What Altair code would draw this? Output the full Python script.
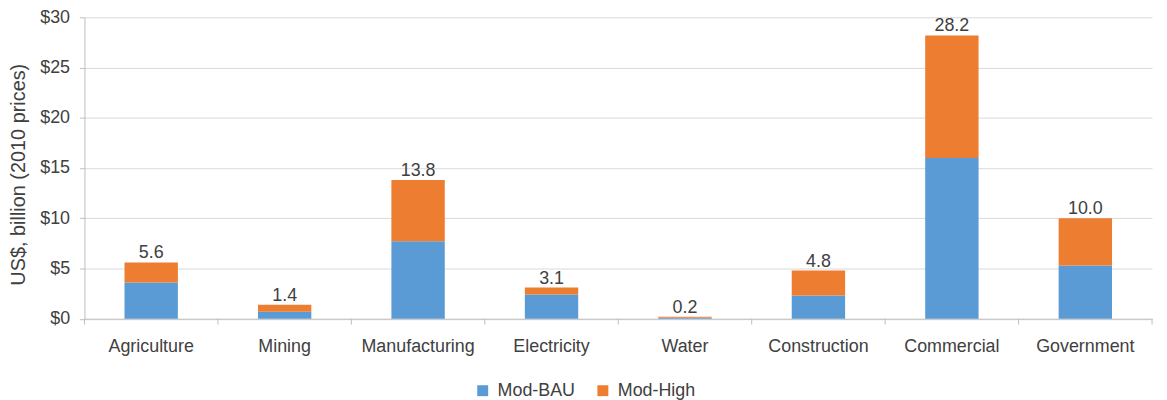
import altair as alt
import pandas as pd

categories = ["Agriculture", "Mining", "Manufacturing", "Electricity", "Water",
              "Construction", "Commercial", "Government"]
mod_bau = [3.6, 0.7, 7.7, 2.4, 0.1, 2.3, 16.0, 5.3]
mod_high = [2.0, 0.7, 6.1, 0.7, 0.1, 2.5, 12.2, 4.7]
series = ["Mod-BAU", "Mod-High"]
colors = ["#5B9BD5", "#ED7D31"]
y_ticks = [0, 5, 10, 15, 20, 25, 30]

rows = []
for c, b, h in zip(categories, mod_bau, mod_high):
    rows.append({"cat": c, "series": "Mod-BAU", "value": b, "ord": 0})
    rows.append({"cat": c, "series": "Mod-High", "value": h, "ord": 1})
df = pd.DataFrame(rows)
totals = pd.DataFrame({"cat": categories,
                       "total": [round(b + h, 1) for b, h in zip(mod_bau, mod_high)]})
cats_df = pd.DataFrame({"cat": categories})

W, H = 1075, 303.5
FONT = "Liberation Sans"
TXT = "#404040"

xscale = alt.Scale(domain=categories, paddingInner=0.6, paddingOuter=0.3)

bars = alt.Chart(df).mark_bar().encode(
    x=alt.X("cat:N", sort=categories, scale=xscale, title=None,
            axis=alt.Axis(labelAngle=0, ticks=False, domainColor="#BFBFBF",
                          labelFontSize=18, labelColor=TXT, labelFont=FONT,
                          labelPadding=19, domainWidth=1)),
    y=alt.Y("value:Q", stack="zero",
            scale=alt.Scale(domain=[0, 30], nice=False),
            axis=alt.Axis(values=y_ticks, labelExpr="'$' + datum.value",
                          title="US$, billion (2010 prices)",
                          labelFontSize=18, labelColor=TXT, labelFont=FONT,
                          titleFontSize=20, titleColor=TXT, titleFont=FONT,
                          titleFontWeight="normal", titleX=-66, titleY=158,
                          titleAngle=270, titleBaseline="middle", titleAlign="center",
                          gridColor="#D9D9D9", domainColor="#BFBFBF",
                          tickColor="#BFBFBF", tickSize=5, labelPadding=10)),
    color=alt.Color("series:N", scale=alt.Scale(domain=series, range=colors),
                    legend=alt.Legend(title=None, orient="none", direction="horizontal",
                                      legendX=392, legendY=367, symbolType="square",
                                      symbolSize=121, symbolStrokeWidth=0,
                                      labelFontSize=18, labelColor=TXT, labelFont=FONT,
                                      labelOffset=6, columnPadding=18, padding=0)),
    order=alt.Order("ord:Q"),
)

labels = alt.Chart(totals).mark_text(fontSize=18, font=FONT, color=TXT,
                                     baseline="alphabetic", dy=-4).encode(
    x=alt.X("cat:N", sort=categories, scale=xscale, axis=None),
    y=alt.Y("total:Q"),
    text=alt.Text("total:Q", format=".1f"),
)

ticks = alt.Chart(cats_df).mark_rule(color="#BFBFBF").encode(
    x=alt.X("cat:N", sort=categories, bandPosition=0,
            scale=alt.Scale(domain=categories, paddingInner=0, paddingOuter=0),
            axis=None),
    y=alt.value(H),
    y2=alt.value(H + 6),
)
end_tick = alt.Chart(cats_df.head(1)).mark_rule(color="#BFBFBF").encode(
    x=alt.value(W), y=alt.value(H), y2=alt.value(H + 6),
)

chart = alt.layer(bars, labels, ticks, end_tick).resolve_scale(x="independent").properties(
    width=W, height=H,
    autosize=alt.AutoSizeParams(type="none"),
    padding={"left": 77, "top": 8, "right": 7, "bottom": 80},
).configure_view(stroke=None).configure_axis(grid=True).configure_axisX(grid=False)

chart.save("out.html", embed_options={"renderer": "svg", "actions": False})
